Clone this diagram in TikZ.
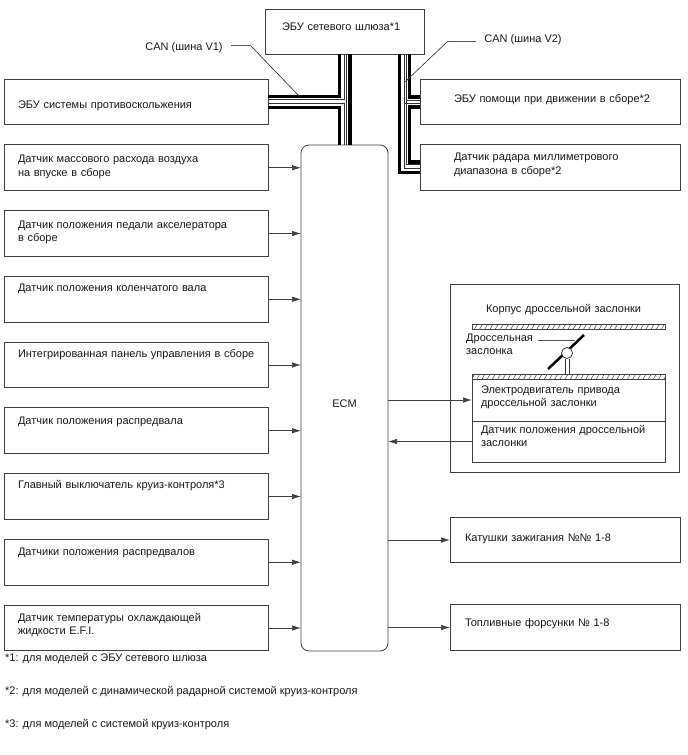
\documentclass[tikz,border=0pt]{standalone}
\usepackage{fontspec}
\setmainfont{Liberation Sans}
\usepackage{tikz}
\usetikzlibrary{arrows.meta,positioning,patterns.meta}
\usepackage{xcolor}

\begin{document}
\begin{tikzpicture}[
    x=1pt, y=-1pt,
    txt/.style={font=\fontsize{11}{13.5}\selectfont, text=black!90},
    unit/.style={rectangle, draw=black!75, line width=0.8pt, fill=white, txt, align=left, outer sep=0pt, inner ysep=0pt},
    leftunit/.style={unit, minimum width=264pt, minimum height=45.75pt, text width=236pt, inner xsep=14pt},
    sideunit/.style={unit, minimum width=260pt, minimum height=45.75pt, text width=192pt, inner xsep=34pt},
    loadunit/.style={unit, minimum width=230pt, minimum height=45.75pt, text width=200pt, inner xsep=15pt},
    partunit/.style={unit, minimum width=193pt, text width=175pt, inner xsep=9pt},
    hatchbar/.style={rectangle, draw=black!75, line width=0.6pt, minimum width=193pt, minimum height=5pt, inner sep=0pt, outer sep=0pt, pattern={Lines[angle=60,distance=4.5pt,line width=0.5pt]}, pattern color=black!75},
    plain/.style={txt, align=left, inner sep=0pt},
    sig/.style={-{Latex[length=9pt,width=5.5pt]}, draw=black!75, line width=0.7pt},
    busthick/.style={draw=black, line width=3.5pt},
    busthin/.style={draw=black!80, line width=0.7pt},
    leader/.style={draw=black!85, line width=0.6pt},
    leaderhead/.style={draw=black!65, line width=1pt}
]
\useasboundingbox (0,0) rectangle (688,755);

% left column
\node[leftunit, text height=15pt] (slip) at (136,102) {ЭБУ системы противоскольжения};
\node[leftunit, text depth=18pt, below=20pt of slip] (airflow) {Датчик массового расхода воздуха\\на впуске в сборе};
\node[leftunit, text depth=18pt, below=20pt of airflow] (pedal) {Датчик положения педали акселератора\\в сборе};
\node[leftunit, text depth=23pt, below=20pt of pedal] (crank) {Датчик положения коленчатого вала};
\node[leftunit, text depth=23pt, below=20pt of crank] (panel) {\mbox{Интегрированная панель управления в сборе}};
\node[leftunit, text depth=21pt, below=20pt of panel] (cam) {Датчик положения распредвала};
\node[leftunit, text depth=24pt, below=20pt of cam] (cruise) {Главный выключатель круиз-контроля*3};
\node[leftunit, text depth=22pt, below=20pt of cruise] (cams) {Датчики положения распредвалов};
\node[leftunit, text depth=22pt, below=20pt of cams] (coolant) {Датчик температуры охлаждающей\\жидкости E.F.I.};

% centre
\node[unit, minimum width=159pt, minimum height=45pt, text width=125pt, inner xsep=17pt, text depth=10pt] (gateway) at (344.5,31.5) {ЭБУ сетевого шлюза*1};
\node[rectangle, draw=black!75, line width=0.8pt, rounded corners=8pt, txt, minimum width=87pt, minimum height=506pt, outer sep=0pt, text height=20pt] (ecm) at (344.5,398) {ECM};

% right column
\node[sideunit, text depth=7pt] (drive) at (550,102) {\mbox{ЭБУ помощи при движении в сборе*2}};
\node[sideunit, text depth=22pt, below=20pt of drive] (radar) {Датчик радара миллиметрового\\диапазона в сборе*2};

% throttle body
\node[unit, minimum width=229pt, minimum height=188pt, text width=157pt, inner xsep=36pt, text depth=139pt] (body) at (564.5,378) {Корпус дроссельной заслонки};
\node[hatchbar] (guide) at (568.5,326.5) {};
\node[hatchbar] (basebar) at (568.5,376.5) {};
\node[partunit, minimum height=42pt, text depth=21pt, below=0pt of basebar] (motor) {Электродвигатель привода\\дроссельной заслонки};
\node[partunit, minimum height=41pt, text depth=25pt, below=0pt of motor] (sensor) {Датчик положения дроссельной\\заслонки};
\node[plain, anchor=north west] (flaptext) at (466,333.5) {Дроссельная\\заслонка};
\coordinate (flaplow) at (548,369);
\coordinate (flaphigh) at (584,335);
\draw[line width=2.5pt] (flaplow) -- (flaphigh);
\node[circle, draw=black!85, fill=white, line width=0.7pt, minimum size=11pt, inner sep=0pt, outer sep=0pt] (pivot) at (567,353) {};
\draw[busthin] ([xshift=-2pt]pivot.south) -- ([xshift=-2pt]pivot.south |- basebar.north);
\draw[busthin] ([xshift=2pt]pivot.south) -- ([xshift=2pt]pivot.south |- basebar.north);
\draw[leaderhead] ([xshift=5pt,yshift=4pt]flaptext.east) -- ++(37,0);

% loads
\node[loadunit, text depth=5pt] (coils) at (565,540) {Катушки зажигания №№ 1-8};
\node[loadunit, text depth=9pt] (injectors) at (565,627.5) {Топливные форсунки № 1-8};

% CAN V1
\draw[busthick] ([yshift=5.5pt]slip.east) -| ([xshift=-5pt]gateway.south);
\draw[busthick] ([yshift=-5.5pt]slip.east) -| ([xshift=-5pt]ecm.north);
\draw[busthin] ([yshift=2.5pt]slip.east) -| ([xshift=-0.5pt]gateway.south);
\draw[busthin] ([yshift=-1pt]slip.east) -| ([xshift=-0.5pt]ecm.north);
\draw[busthin] ([xshift=2pt]gateway.south) -- ([xshift=2pt]ecm.north);
\draw[busthick] ([xshift=5.5pt]gateway.south) -- ([xshift=5.5pt]ecm.north);

% CAN V2
\draw[busthick] ([xshift=55pt]gateway.south) |- ([yshift=-4.5pt]radar.west);
\draw[busthin] ([xshift=59.5pt]gateway.south) |- ([yshift=-0.5pt]radar.west);
\draw[busthin] ([xshift=62pt]gateway.south) |- ([yshift=3pt]radar.west);
\draw[busthick] ([xshift=65pt]gateway.south) |- ([yshift=5pt]drive.west);
\draw[busthick] ([yshift=-5pt]drive.west) -- ++(-10.5,0) |- ([yshift=6pt]radar.west);
\draw[busthin] ([yshift=2pt]drive.west) -- ++(-13.5,0);
\draw[busthin] ([yshift=-1pt]drive.west) -- ++(-16,0);

% bus labels
\node[plain] (canone) at (184,48) {CAN (шина V1)};
\node[plain] (cantwo) at (523,40) {CAN (шина V2)};
\coordinate (canonebend) at (250,45);
\coordinate (canonehit) at (300,97);
\coordinate (cantwobend) at (448,41);
\coordinate (cantwohit) at (405,82);
\draw[leaderhead] ([xshift=8pt,yshift=3pt]canone.east) -- (canonebend);
\draw[leader] (canonebend) -- (canonehit);
\draw[leaderhead] ([xshift=-8pt,yshift=-1pt]cantwo.west) -- (cantwobend);
\draw[leader] (cantwobend) -- (cantwohit);

% signals
\foreach \src in {airflow,pedal,crank,panel,cam,cruise,cams,coolant}
    \draw[sig] (\src.east) -- (\src.east -| ecm.west);
\draw[sig] (motor.west -| ecm.east) -- (motor.west);
\draw[sig] (sensor.west) -- (sensor.west -| ecm.east);
\draw[sig] (coils.west -| ecm.east) -- (coils.west);
\draw[sig] (injectors.west -| ecm.east) -- (injectors.west);

% footnotes
\node[plain, anchor=west] (noteone) at (5,659) {*1: для моделей с ЭБУ сетевого шлюза};
\node[plain, anchor=west] (notetwo) at (5,692) {*2: для моделей с динамической радарной системой круиз-контроля};
\node[plain, anchor=west] (notethree) at (5,725) {*3: для моделей с системой круиз-контроля};
\end{tikzpicture}
\end{document}
